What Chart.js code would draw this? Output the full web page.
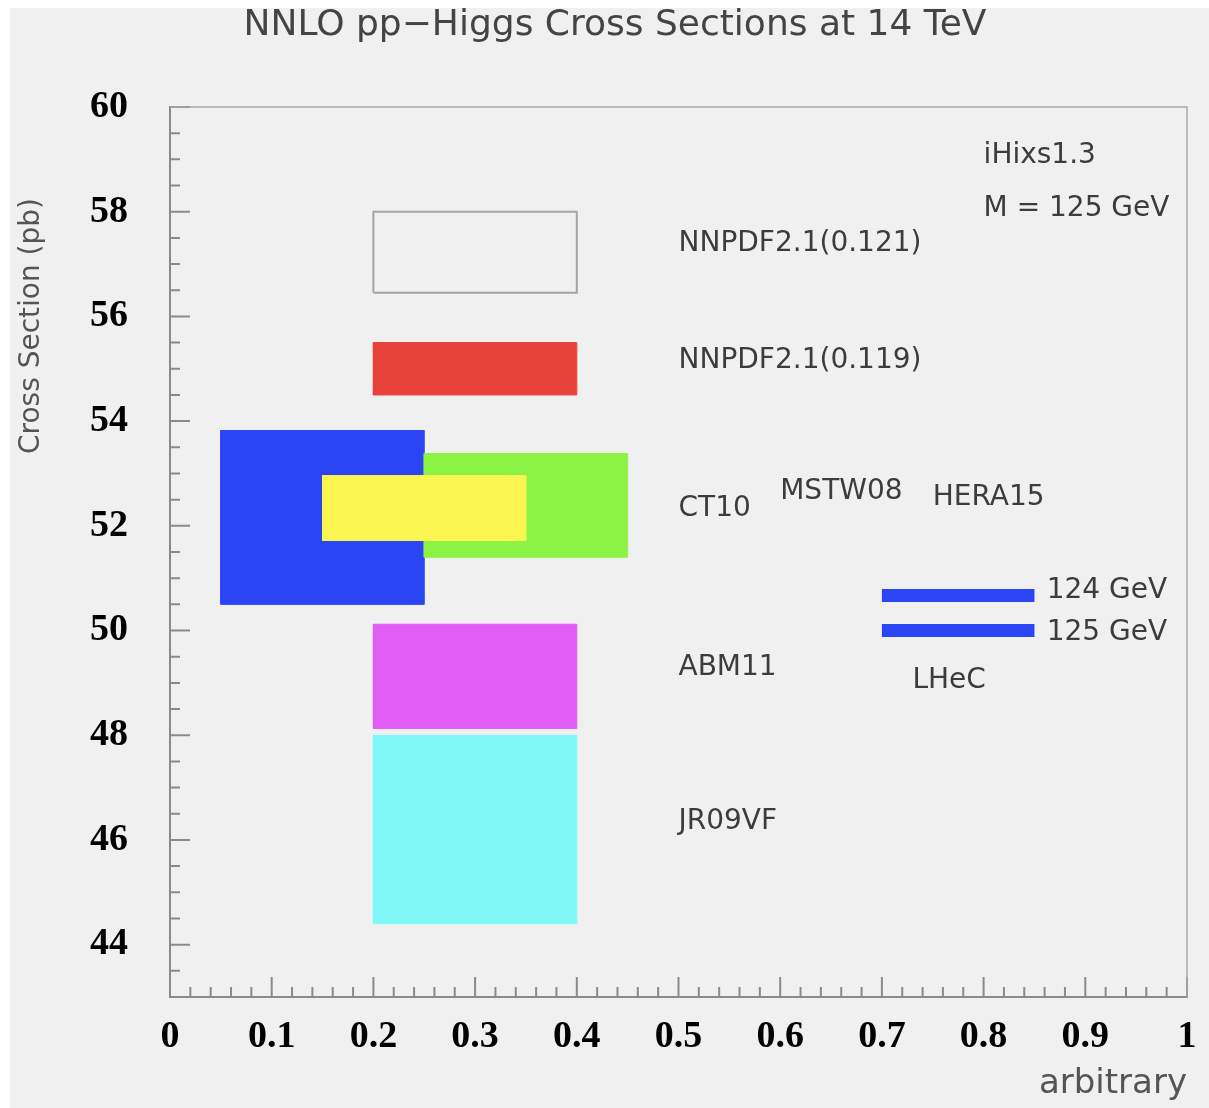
<!DOCTYPE html>
<html>
<head>
<meta charset="utf-8">
<script src="https://cdn.jsdelivr.net/npm/chart.js@4/dist/chart.umd.min.js"></script>
<style>
html, body { margin: 0; background: #fff; }
#wrap { position: absolute; left: 10px; top: 8px; width: 1199px; height: 1100px; background: #f0f0f0; }
</style>
</head>
<body>
<div id="wrap"><canvas id="xsChart"></canvas></div>
<script>
// PDF bands: x range is arbitrary, y range is the cross section band (pb)
const boxNames = ['NNPDF2.1(0.121)', 'NNPDF2.1(0.119)', 'MSTW08', 'HERA15', 'CT10', 'ABM11', 'JR09VF'];
const boxXLo = [0.2, 0.2, 0.05, 0.25, 0.15, 0.2, 0.2];
const boxXHi = [0.4, 0.4, 0.25, 0.45, 0.35, 0.4, 0.4];
const boxYLo = [56.45, 54.5, 50.5, 51.4, 51.72, 48.13, 44.4];
const boxYHi = [58.0, 55.5, 53.82, 53.38, 52.96, 50.12, 48.0];
const boxColors = [null, '#e8433b', '#2b45f5', '#8cf244', '#fbf551', '#e05ef5', '#80f8f7'];

// LHeC predictions
const lhecMasses = ['124 GeV', '125 GeV'];
const lhecXsec = [50.67, 50.0];
const lhecX = [0.7, 0.85];

// text labels (data coordinates, left edge)
const labelTexts = ['NNPDF2.1(0.121)', 'NNPDF2.1(0.119)', 'CT10', 'MSTW08', 'HERA15', 'ABM11', 'JR09VF',
    '124 GeV', '125 GeV', 'LHeC', 'iHixs1.3', 'M = 125 GeV'];
const labelX = [0.5, 0.5, 0.5, 0.6, 0.75, 0.5, 0.5, 0.862, 0.862, 0.73, 0.8, 0.8];
const labelY = [57.38, 55.16, 52.33, 52.66, 52.54, 49.29, 46.35, 50.76, 49.96, 49.04, 59.06, 58.05];

const xTickValues = [0, 0.1, 0.2, 0.3, 0.4, 0.5, 0.6, 0.7, 0.8, 0.9, 1];
const xTickLabels = ['0', '0.1', '0.2', '0.3', '0.4', '0.5', '0.6', '0.7', '0.8', '0.9', '1'];
const yTickValues = [44, 46, 48, 50, 52, 54, 56, 58, 60];

const titleText = 'NNLO pp\u2212Higgs Cross Sections at 14 TeV';

const datasets = boxNames.map((name, i) => ({
    label: name,
    data: [
        { x: boxXLo[i], y: boxYLo[i] },
        { x: boxXHi[i], y: boxYLo[i] },
        { x: boxXHi[i], y: boxYHi[i] },
        { x: boxXLo[i], y: boxYHi[i] },
        { x: boxXLo[i], y: boxYLo[i] }
    ],
    showLine: true,
    fill: boxColors[i] ? 'shape' : false,
    backgroundColor: boxColors[i] || 'rgba(0,0,0,0)',
    borderColor: boxColors[i] || '#a4a4a4',
    borderWidth: boxColors[i] ? 1 : 2,
    pointRadius: 0,
    order: boxNames.length - i
}));

lhecMasses.forEach((m, i) => {
    datasets.push({
        label: 'LHeC ' + m,
        data: [{ x: lhecX[0], y: lhecXsec[i] }, { x: lhecX[1], y: lhecXsec[i] }],
        showLine: true,
        fill: false,
        borderColor: '#2b45f5',
        borderWidth: 13,
        borderCapStyle: 'butt',
        pointRadius: 0,
        order: 0
    });
});

// ROOT style inward ticks + light top/right frame
const frameTicks = {
    id: 'frameTicks',
    afterDraw(chart) {
        const { ctx, chartArea: a, scales: { x, y } } = chart;
        ctx.save();
        ctx.strokeStyle = '#8a8a8a';
        ctx.lineWidth = 2;
        ctx.beginPath();
        for (let k = 86; k <= 120; k++) {
            const py = y.getPixelForValue(k / 2);
            const len = k % 4 === 0 ? 20 : 10;
            ctx.moveTo(a.left, py);
            ctx.lineTo(a.left + len, py);
        }
        for (let k = 0; k <= 50; k++) {
            const px = x.getPixelForValue(k / 50);
            const len = k % 5 === 0 ? 20 : 10;
            ctx.moveTo(px, a.bottom);
            ctx.lineTo(px, a.bottom - len);
        }
        ctx.stroke();
        ctx.strokeStyle = '#a8a8a8';
        ctx.lineWidth = 1.5;
        ctx.beginPath();
        ctx.moveTo(a.left, a.top);
        ctx.lineTo(a.right, a.top);
        ctx.lineTo(a.right, a.bottom);
        ctx.stroke();
        ctx.restore();
    }
};

const textLabels = {
    id: 'textLabels',
    afterDatasetsDraw(chart) {
        const { ctx, scales: { x, y } } = chart;
        ctx.save();
        ctx.fillStyle = '#3c3c3c';
        ctx.font = '28px "DejaVu Sans"';
        ctx.textAlign = 'left';
        ctx.textBaseline = 'middle';
        labelTexts.forEach((t, i) => {
            ctx.fillText(t, x.getPixelForValue(labelX[i]), y.getPixelForValue(labelY[i]));
        });
        // title
        ctx.fillStyle = '#444';
        ctx.font = '36px "DejaVu Sans"';
        ctx.textAlign = 'center';
        ctx.fillText(titleText, 605, 18);
        // y axis title
        ctx.fillStyle = '#555';
        ctx.font = '28px "DejaVu Sans"';
        ctx.translate(22, 318);
        ctx.rotate(-Math.PI / 2);
        ctx.fillText('Cross Section (pb)', 0, 0);
        ctx.restore();
    }
};

const ctx = document.getElementById('xsChart').getContext('2d');
new Chart(ctx, {
    type: 'scatter',
    data: { datasets },
    plugins: [frameTicks, textLabels],
    options: {
        responsive: true,
        maintainAspectRatio: false,
        animation: false,
        layout: { padding: { left: 0, right: 22, top: 99, bottom: 0 } },
        plugins: {
            legend: { display: false },
            tooltip: { enabled: false },
            title: { display: false }
        },
        scales: {
            x: {
                type: 'linear',
                min: 0,
                max: 1,
                afterBuildTicks: (s) => { s.ticks = xTickValues.map(v => ({ value: v })); },
                afterFit: (s) => { s.height = 111; s.paddingLeft = 0; s.paddingRight = 0; },
                grid: { display: false, drawTicks: false },
                border: { display: true, color: '#8a8a8a', width: 2 },
                ticks: {
                    autoSkip: false,
                    maxRotation: 0,
                    padding: 17,
                    color: '#000',
                    font: { family: 'Liberation Serif', size: 38, weight: 'bold' },
                    callback: (v, i) => xTickLabels[i]
                },
                title: {
                    display: true,
                    text: 'arbitrary',
                    align: 'end',
                    color: '#555',
                    font: { family: 'DejaVu Sans', size: 34 },
                    padding: { top: 0, bottom: 3 }
                }
            },
            y: {
                type: 'linear',
                min: 43,
                max: 60,
                afterBuildTicks: (s) => { s.ticks = yTickValues.map(v => ({ value: v })); },
                afterFit: (s) => { s.width = 160; },
                grid: { display: false, drawTicks: false },
                border: { display: true, color: '#8a8a8a', width: 2 },
                ticks: {
                    padding: 42,
                    color: '#000',
                    font: { family: 'Liberation Serif', size: 38, weight: 'bold' }
                }
            }
        }
    }
});
</script>
</body>
</html>
